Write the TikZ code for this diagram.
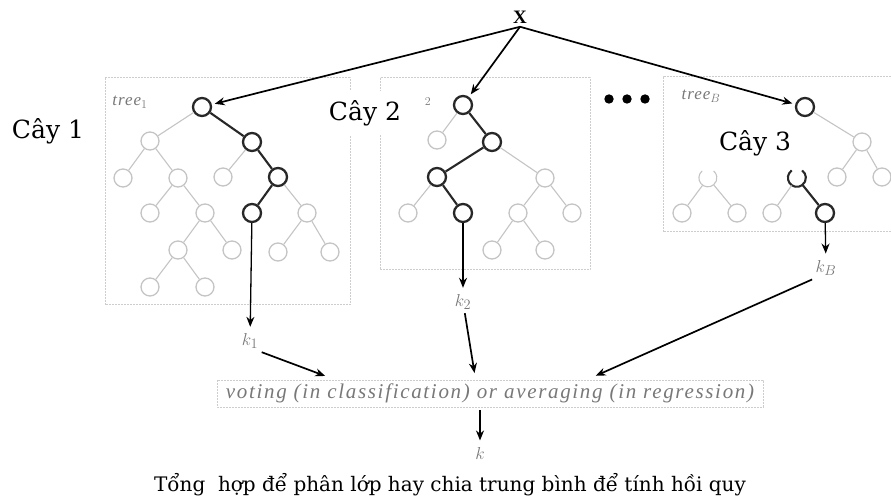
\documentclass[tikz,border=0pt]{standalone}
\usepackage{fontspec}
\setmainfont{DejaVu Serif}
\newfontfamily\timesfont{Liberation Serif}
\newfontfamily\spacedfont[LetterSpace=6]{Liberation Serif}
\newfontfamily\votefont[LetterSpace=8]{Liberation Serif}
\usetikzlibrary{arrows.meta}
\definecolor{lightgrey}{RGB}{196,196,196}
\definecolor{framegrey}{RGB}{205,205,205}
\definecolor{darkline}{RGB}{40,40,40}
\definecolor{labelgrey}{RGB}{120,120,120}
\tikzset{
  gnode/.style={circle, draw=lightgrey, line width=1.3pt, minimum size=18pt, inner sep=0pt},
  hnode/.style={gnode, draw=darkline, line width=2.3pt},
  gapnode/.style={circle, minimum size=18pt, inner sep=0pt},
  gedge/.style={lightgrey, line width=1.1pt},
  hedge/.style={darkline, line width=2.1pt},
  frame/.style={framegrey, dash pattern=on 2pt off 1pt, line width=1pt},
  arr/.style={->, line width=1.7pt, shorten >=3pt},
  glabel/.style={labelgrey, font=\spacedfont\itshape\fontsize{17}{19}\selectfont},
  klabel/.style={labelgrey, font=\fontsize{19}{21}\selectfont},
  cay/.style={font=\fontsize{25}{28}\selectfont}
}
\begin{document}
\begin{tikzpicture}[>={Stealth[length=10pt, width=8pt]}, x=1pt, y=-1pt]
\useasboundingbox (0,0) rectangle (891,502);
% frames
\draw[frame] (105,78) rectangle (350,305);
\draw[frame] (380,78) rectangle (590,270);
\draw[frame] (891,77) -- (663,77) -- (663,232) -- (891,232);
\draw[frame] (217,380) rectangle (763,407);
% tree 1
\node[hnode] (p1) at (202,107) {};
\node[gnode] (p2) at (150,141) {};
\node[hnode] (p3) at (252,142) {};
\node[gnode] (p4) at (123,178) {};
\node[gnode] (p5) at (178,178) {};
\node[gnode] (p6) at (223,177) {};
\node[hnode] (p7) at (278,177) {};
\node[gnode] (p8) at (150,213) {};
\node[gnode] (p9) at (205,213) {};
\node[hnode] (p10) at (252,213) {};
\node[gnode] (p11) at (307,213) {};
\node[gnode] (p12) at (178,250) {};
\node[gnode] (p13) at (232,250) {};
\node[gnode] (p14) at (278,252) {};
\node[gnode] (p15) at (330,252) {};
\node[gnode] (p16) at (150,287) {};
\node[gnode] (p17) at (205,287) {};
\draw[gedge] (p1)--(p2) (p2)--(p4) (p2)--(p5) (p3)--(p6) (p5)--(p8) (p5)--(p9)
  (p7)--(p11) (p9)--(p12) (p9)--(p13) (p11)--(p14) (p11)--(p15)
  (p12)--(p16) (p12)--(p17);
\draw[hedge] (p1)--(p3) (p3)--(p7) (p7)--(p10);
\node[glabel] (t1) at (130,102) {tree$_1$};
% tree 2
\node[hnode] (q1) at (463,105) {};
\node[gnode] (q2) at (437,140) {};
\node[hnode] (q3) at (492,142) {};
\node[hnode] (q4) at (437,177) {};
\node[gnode] (q5) at (545,178) {};
\node[gnode] (q6) at (408,213) {};
\node[hnode] (q7) at (463,213) {};
\node[gnode] (q8) at (518,213) {};
\node[gnode] (q9) at (572,213) {};
\node[gnode] (q10) at (492,250) {};
\node[gnode] (q11) at (545,250) {};
\draw[gedge] (q1)--(q2) (q3)--(q5) (q4)--(q6) (q5)--(q8) (q5)--(q9)
  (q8)--(q10) (q8)--(q11);
\draw[hedge] (q1)--(q3) (q3)--(q4) (q4)--(q7);
\node[glabel] (t2) at (428,102) {$_2$};
% tree B
\node[hnode] (r1) at (805,107) {};
\node[gnode] (r2) at (862,142) {};
\node[gnode] (r3) at (837,177) {};
\node[gnode] (r4) at (882,177) {};
\node[gapnode] (r5) at (708,178) {};
\node[gnode] (r6) at (682,213) {};
\node[gnode] (r7) at (737,213) {};
\node[gapnode] (r8) at (797,178) {};
\node[gnode] (r9) at (772,213) {};
\node[hnode] (r10) at (825,213) {};
\draw[gedge] (r5.130) arc[start angle=130, end angle=410, radius=9pt];
\draw[hedge] (r8.125) arc[start angle=125, end angle=415, radius=9pt];
\draw[gedge] (r1)--(r2) (r2)--(r3) (r2)--(r4) (r5)--(r6) (r5)--(r7) (r8)--(r9);
\draw[hedge] (r8)--(r10);
\node[glabel] (t3) at (701,96) {tree$_B$};
% labels
\node[cay] (c1) at (48,131) {Cây 1};
\node[cay, fill=white, inner xsep=3pt, inner ysep=9pt] (c2) at (365,113) {Cây 2};
\node[cay] (c3) at (755,143) {Cây 3};
\fill (609,99) circle (4.7pt) (627,99) circle (4.7pt) (645,99) circle (4.7pt);
% input and outputs
\node[font=\timesfont\bfseries\fontsize{19}{21}\selectfont] (x) at (520,17) {X};
\node[klabel] (k1) at (250,341) {$k_1$};
\node[klabel] (k2) at (463,302) {$k_2$};
\node[klabel] (kb) at (826,268) {$k_B$};
\node[labelgrey, font=\votefont\itshape\fontsize{21}{23}\selectfont] (vote) at (490,393)
  {voting (in classification) or averaging (in regression)};
\node[klabel] (k) at (480,453) {$k$};
\node[font=\fontsize{20}{23}\selectfont] (cap) at (450,485)
  {Tổng\ \ hợp để phân lớp hay chia trung bình để tính hồi quy};
\draw[arr] (x.south) -- (p1);
\draw[arr] (x.south) -- (q1);
\draw[arr] (x.south) -- (r1);
\draw[arr, line width=1.3pt] (p10) -- (k1);
\draw[arr, line width=1.3pt] (q7) -- (k2);
\draw[arr, line width=1.3pt] (r10) -- (kb);
\draw[arr] (k1.south east) -- (328,377);
\draw[arr] (k2) -- (475,376);
\draw[arr] (kb.south west) -- (593,377);
\draw[arr, shorten <=4pt] (k |- vote.south) -- (k);
\end{tikzpicture}
\end{document}
